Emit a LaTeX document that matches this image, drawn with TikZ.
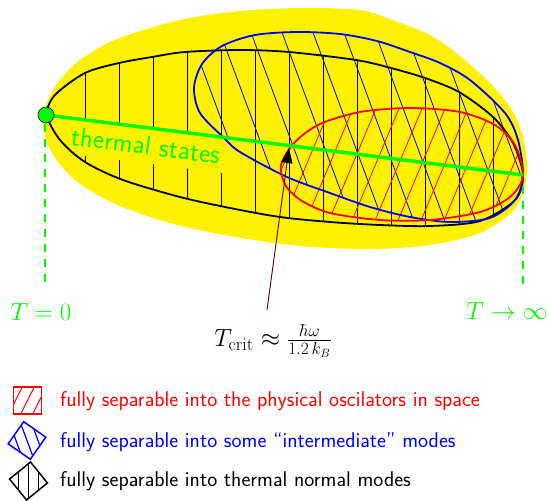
\documentclass[tikz,border=0pt]{standalone}
\usepackage{fontspec}
\usetikzlibrary{arrows.meta}
\definecolor{bgreen}{RGB}{0,250,0}
\definecolor{arrowred}{RGB}{90,0,0}
\begin{document}
\begin{tikzpicture}[x=1pt,y=-1pt,
  outline/.style={line width=1.8pt},
  hatch/.style={line width=0.8pt},
  legendtext/.style={anchor=base west,font=\sffamily\fontsize{21.3}{25}\selectfont,inner sep=0pt},
  mathlabel/.style={text=bgreen,font=\fontsize{26}{30}\selectfont,inner sep=0pt},
  dashline/.style={bgreen,line width=1.2pt,dash pattern=on 8pt off 7pt}]
\useasboundingbox (0,0) rectangle (548,500);
\def\yellowpath{plot[smooth cycle] coordinates {(43,125) (48,100) (60,80) (80,60) (117,39) (180,20) (240,11) (300,8) (360,10) (395,21) (430,35) (460,56) (493,86) (513,112) (523,137) (527,165) (524,190) (512,212) (480,233) (430,245) (370,249) (300,246) (230,236) (170,223) (115,204) (75,180) (52,153)}}
\def\blackpath{plot[smooth cycle] coordinates {(47,115) (55,95) (85,73) (119,63) (152,57) (185,52) (240,50) (289,52) (356,60) (391,68) (425,78) (459,92) (493,117) (513,143) (523,175) (515,200) (480,221) (430,226) (380,225) (330,222) (280,217) (230,208) (180,197) (123,180) (85,162) (60,140)}}
\def\bluepath{plot[smooth cycle] coordinates {(523,176) (518,140) (505,113) (470,80) (440,63) (410,52) (377,41) (340,34) (297,32) (255,35) (222,46) (202,64) (194,88) (200,113) (223,137) (240,152) (287,177) (330,193) (370,207) (410,217) (450,222) (490,218) (515,200)}}
\def\redpath{plot[smooth cycle] coordinates {(523,176) (515,145) (495,125) (460,112) (410,108) (360,112) (320,124) (295,142) (281,165) (286,186) (302,201) (330,213) (380,220) (430,220) (480,212) (510,197)}}
% yellow blob
\fill[yellow] \yellowpath;
% black vertical hatching
\begin{scope}
  \clip \blackpath;
  \foreach \k in {0,...,12}{\draw[hatch,black] ({85+34*\k},20) -- ({85+34*\k},240);}
\end{scope}
% blue hatching
\begin{scope}
  \clip \bluepath;
  \foreach \k in {-4,...,6}{\draw[hatch,blue] ({270+31*\k+0.37*20},20) -- ({270+31*\k+0.37*240},240);}
\end{scope}
% red hatching
\begin{scope}
  \clip \redpath;
  \foreach \k in {-3,...,8}{\draw[hatch,red] ({421.6+23*\k-0.42*100},100) -- ({421.6+23*\k-0.42*240},240);}
\end{scope}
% label of thermal line
\node[rotate=-7.2, anchor=north, fill=yellow, inner sep=8.3pt, text=bgreen,
  font=\sffamily\fontsize{27}{32}\selectfont] (thlabel) at (148,127.5) {thermal states};
% outlines
\draw[outline,black] \blackpath;
\draw[outline,blue] \bluepath;
\draw[outline,red] \redpath;
% thermal line
\coordinate (tinf) at (523,175);
\coordinate (tzero) at (46,115);
\draw[bgreen, line width=3.5pt] (tzero) -- (tinf);
\node[circle, fill=bgreen, draw=black, line width=0.6pt, minimum size=16pt, inner sep=0pt] (t0) at (tzero) {};
% dashed markers
\coordinate (d0a) at (45,124);
\coordinate (d0b) at (45,282);
\coordinate (d1a) at (523,186);
\coordinate (d1b) at (523,286);
\draw[dashline] (d0a) -- (d0b);
\draw[dashline] (d1a) -- (d1b);
\node[mathlabel] (lz) at (41,312) {$T=0$};
\node[mathlabel] (li) at (507,311) {$T\to\infty$};
% critical temperature
\node[font=\fontsize{26}{30}\selectfont, inner sep=0pt] (tcrit) at (273,341) {$T_{\mathrm{crit}}\approx\frac{\hbar\omega}{1.2\,k_B}$};
\coordinate (astart) at (267,310);
\coordinate (atip) at (289,148);
\draw[arrowred, line width=0.9pt, -{Triangle[length=15pt,width=11pt,color=black]}] (astart) -- (atip);
% legend
\begin{scope}[shift={(27.5,400.5)}]
  \begin{scope}
    \clip (-14,-13.5) rectangle (14,13.5);
    \foreach \c in {-12,0,12}{\draw[hatch,red,line width=1pt] ({\c+0.5*20},-20) -- ({\c-0.5*20},20);}
  \end{scope}
  \draw[red,line width=1.5pt] (-14,-13.5) rectangle (14,13.5);
\end{scope}
\begin{scope}[shift={(27,440.5)}]
  \begin{scope}
    \clip[rotate=55] (-13.5,-13.5) rectangle (13.5,13.5);
    \foreach \c in {-11,0,11}{\draw[blue,line width=1.2pt] ({\c-0.37*22},-22) -- ({\c+0.37*22},22);}
  \end{scope}
  \draw[blue,line width=1.5pt,rotate=55] (-13.5,-13.5) rectangle (13.5,13.5);
\end{scope}
\begin{scope}[shift={(28.5,481)}]
  \begin{scope}
    \clip[rotate=39] (-13.5,-13.5) rectangle (13.5,13.5);
    \foreach \c in {-10,0,10}{\draw[black,line width=1.2pt] (\c,-22) -- (\c,22);}
  \end{scope}
  \draw[black,line width=1.5pt,rotate=39] (-13.5,-13.5) rectangle (13.5,13.5);
\end{scope}
\node[legendtext,text=red] (l1) at (60,406) {fully separable into the physical oscilators in space};
\node[legendtext,text=blue] (l2) at (60,447) {fully separable into some ``intermediate'' modes};
\node[legendtext,text=black] (l3) at (60,486) {fully separable into thermal normal modes};
\end{tikzpicture}
\end{document}
